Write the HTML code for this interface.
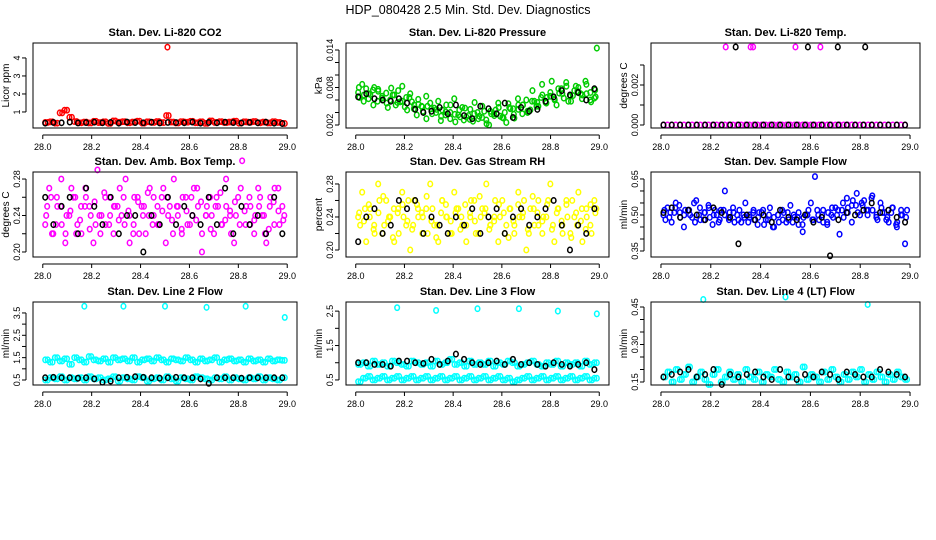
<!DOCTYPE html>
<html><head><meta charset="utf-8"><style>
html,body{margin:0;padding:0;background:#fff;}
svg{display:block;font-family:"Liberation Sans",sans-serif;}
</style></head><body>
<svg id="chart" width="936" height="540" viewBox="0 0 936 540">
<rect width="936" height="540" fill="#fff"/>
<text x="468" y="14" text-anchor="middle" font-size="12.5">HDP_080428  2.5 Min. Std. Dev. Diagnostics</text>
</svg>
<script>
// ---- data arrays ----
const xTicks = [28.0, 28.2, 28.4, 28.6, 28.8, 29.0];
const xTickLabels = ["28.0","28.2","28.4","28.6","28.8","29.0"];

const co2Red = [0.42,0.45,0.38,0.95,1.1,0.7,0.47,0.40,0.44,0.39,0.48,0.41,0.45,0.37,0.5,0.43,0.46,0.40,0.44,0.49,0.38,0.45,0.42,0.47,0.41,0.8,0.44,0.39,0.46,0.43,0.48,0.40,0.45,0.37,0.5,0.42,0.46,0.41,0.44,0.49,0.38,0.45,0.43,0.47,0.40,0.44,0.39,0.46,0.42,0.36];
const co2Black = [0.38,0.42,0.40,0.44,0.39,0.41,0.43,0.40,0.42,0.38,0.44,0.41,0.40,0.43,0.39,0.42,0.41,0.40,0.44,0.38,0.42,0.40,0.43,0.41,0.39,0.42,0.40,0.43,0.38,0.36];
const co2OutX = [28.51]; const co2OutY = [4.6];

const presGreen = [0.0072,0.0085,0.0078,0.0069,0.0080,0.0074,0.0066,0.0071,0.0060,0.0068,0.0075,0.0058,0.0064,0.0070,0.0052,0.0061,0.0049,0.0066,0.0055,0.0047,0.0058,0.0044,0.0052,0.0040,0.0062,0.0036,0.0048,0.0033,0.0045,0.0038,0.0030,0.0050,0.0028,0.0042,0.0035,0.0055,0.0032,0.0024,0.0046,0.0031,0.0052,0.0038,0.0060,0.0044,0.0058,0.0050,0.0068,0.0055,0.0072,0.0062,0.0078,0.0070,0.0082,0.0066,0.0075,0.0080,0.0068,0.0085,0.0072,0.0063];
const presGreen2 = [0.0064,0.0068,0.0062,0.0076,0.0058,0.0063,0.0055,0.0079,0.0052,0.0057,0.0049,0.0064,0.0046,0.0053,0.0042,0.0050,0.0038,0.0045,0.0034,0.0041,0.0030,0.0037,0.0044,0.0028,0.0035,0.0026,0.0040,0.0032,0.0022,0.0038,0.0044,0.0034,0.0040,0.0048,0.0037,0.0045,0.0052,0.0042,0.0058,0.0050,0.0064,0.0056,0.0066,0.0060,0.0071,0.0063,0.0058,0.0067,0.0074,0.0062,0.0070,0.0057,0.0065];
const presGreen3 = [0.0080,0.0058,0.0070,0.0052,0.0077,0.0060,0.0048,0.0068,0.0056,0.0082,0.0044,0.0057,0.0036,0.0050,0.0030,0.0046,0.0040,0.0027,0.0036,0.0052,0.0025,0.0033,0.0047,0.0029,0.0056,0.0034,0.0042,0.0020,0.0038,0.0048,0.0031,0.0054,0.0046,0.0062,0.0052,0.0040,0.0075,0.0056,0.0085,0.0064,0.0090,0.0052,0.0078,0.0088,0.0058,0.0082,0.0070,0.0090,0.0060,0.0076];
const presBlack = [0.0065,0.0070,0.0062,0.0060,0.0058,0.0062,0.0055,0.0045,0.0040,0.0042,0.0048,0.0038,0.0052,0.0035,0.0030,0.0050,0.0046,0.0038,0.0055,0.0032,0.0048,0.0042,0.0045,0.0058,0.0065,0.0075,0.0068,0.0072,0.0060,0.0078];
const presOutX = [28.99]; const presOutY = [0.0143];

const tempMag = new Array(60).fill(0);
const tempBlack = new Array(30).fill(0);
const tempMagOutX = [28.26,28.36,28.37,28.54,28.64]; const tempMagOutY = [0.0039,0.0039,0.0039,0.0039,0.0039];
const tempBlkOutX = [28.30,28.59,28.71,28.82]; const tempBlkOutY = [0.0039,0.0039,0.0039,0.0039];

const ambMag = [0.23,0.27,0.22,0.25,0.28,0.21,0.24,0.26,0.23,0.22,0.27,0.25,0.21,0.29,0.24,0.23,0.26,0.22,0.25,0.24,0.28,0.21,0.23,0.26,0.25,0.22,0.27,0.24,0.23,0.26,0.21,0.25,0.28,0.24,0.22,0.26,0.23,0.27,0.25,0.20,0.24,0.26,0.22,0.25,0.23,0.28,0.24,0.21,0.26,0.30,0.25,0.23,0.22,0.27,0.24,0.21,0.26,0.23,0.27,0.25];
const ambMag2 = [0.25,0.22,0.26,0.23,0.24,0.27,0.22,0.25,0.26,0.24,0.23,0.22,0.26,0.24,0.25,0.27,0.23,0.24,0.26,0.22,0.25,0.24,0.26,0.23,0.27,0.24,0.22,0.25,0.26,0.23,0.24,0.27,0.22,0.25,0.24,0.26,0.23,0.25,0.22,0.24,0.27,0.23,0.25,0.24,0.26,0.22,0.25,0.27,0.23,0.24];
const ambMag3 = [0.24,0.26,0.23,0.25,0.22,0.245,0.26,0.235,0.25,0.225,0.255,0.24,0.265,0.23,0.25,0.235,0.26,0.245,0.22,0.255,0.24,0.265,0.23,0.25,0.245,0.26,0.235,0.25,0.225,0.245,0.26,0.235,0.255,0.24,0.225,0.25,0.265,0.235,0.245,0.255,0.23,0.245,0.26,0.235,0.25,0.24,0.225,0.255,0.245,0.235];
const ambBlack = [0.26,0.23,0.25,0.26,0.22,0.27,0.25,0.23,0.26,0.22,0.24,0.24,0.20,0.24,0.23,0.26,0.23,0.25,0.24,0.23,0.26,0.23,0.27,0.22,0.25,0.23,0.24,0.22,0.26,0.22];
const rhYel = [0.24,0.27,0.21,0.25,0.23,0.28,0.22,0.26,0.24,0.21,0.25,0.27,0.23,0.20,0.26,0.24,0.22,0.25,0.28,0.23,0.21,0.26,0.24,0.22,0.27,0.25,0.23,0.21,0.24,0.26,0.22,0.25,0.28,0.23,0.24,0.21,0.26,0.23,0.25,0.22,0.27,0.24,0.20,0.25,0.23,0.26,0.22,0.24,0.28,0.21,0.25,0.23,0.26,0.22,0.24,0.27,0.21,0.25,0.23,0.26];
const rhYel2 = [0.23,0.25,0.24,0.22,0.26,0.23,0.24,0.25,0.22,0.24,0.26,0.23,0.25,0.24,0.22,0.25,0.23,0.26,0.24,0.22,0.25,0.24,0.23,0.26,0.22,0.24,0.25,0.23,0.26,0.24,0.22,0.25,0.23,0.24,0.26,0.22,0.25,0.23,0.24,0.26,0.23,0.25,0.22,0.24,0.26,0.23,0.25,0.24,0.22,0.25];
const rhYel3 = [0.245,0.235,0.255,0.225,0.245,0.265,0.235,0.215,0.245,0.255,0.235,0.225,0.255,0.245,0.265,0.235,0.215,0.245,0.255,0.235,0.245,0.225,0.255,0.245,0.235,0.265,0.245,0.225,0.235,0.255,0.245,0.215,0.235,0.255,0.245,0.225,0.265,0.245,0.235,0.255,0.225,0.245,0.235,0.255,0.215,0.245,0.235,0.225,0.255,0.245];
const rhBlack = [0.21,0.24,0.25,0.22,0.23,0.26,0.25,0.26,0.22,0.24,0.23,0.22,0.24,0.23,0.25,0.22,0.24,0.25,0.22,0.24,0.25,0.23,0.24,0.25,0.26,0.23,0.20,0.23,0.22,0.25];
const sfBlue = [0.50,0.53,0.47,0.55,0.51,0.45,0.52,0.49,0.56,0.48,0.51,0.54,0.46,0.50,0.52,0.60,0.48,0.53,0.50,0.47,0.55,0.49,0.52,0.46,0.51,0.48,0.53,0.45,0.50,0.52,0.47,0.54,0.49,0.51,0.43,0.50,0.55,0.66,0.48,0.52,0.46,0.50,0.53,0.42,0.49,0.51,0.47,0.54,0.50,0.56,0.52,0.58,0.49,0.55,0.51,0.47,0.53,0.45,0.50,0.38];
const sfBlue2 = [0.48,0.51,0.53,0.49,0.52,0.50,0.47,0.53,0.51,0.49,0.52,0.48,0.50,0.51,0.47,0.52,0.49,0.50,0.48,0.51,0.46,0.50,0.49,0.47,0.51,0.48,0.50,0.46,0.49,0.52,0.48,0.50,0.47,0.51,0.49,0.52,0.55,0.53,0.56,0.51,0.54,0.50,0.52,0.48,0.51,0.49,0.53,0.47,0.50,0.52];
const sfBlue3 = [0.52,0.49,0.51,0.54,0.50,0.52,0.55,0.50,0.48,0.53,0.50,0.47,0.52,0.49,0.51,0.48,0.50,0.47,0.51,0.49,0.52,0.48,0.45,0.50,0.48,0.51,0.47,0.49,0.46,0.50,0.48,0.52,0.50,0.47,0.53,0.50,0.52,0.57,0.54,0.59,0.55,0.52,0.57,0.50,0.53,0.48,0.51,0.46,0.52,0.49];
const sfBlack = [0.51,0.53,0.49,0.52,0.50,0.48,0.53,0.51,0.49,0.38,0.50,0.48,0.50,0.47,0.52,0.49,0.48,0.50,0.47,0.49,0.33,0.48,0.51,0.50,0.52,0.55,0.51,0.52,0.49,0.47];

const l2High = [1.4,1.3,1.5,1.35,1.45,1.2,1.5,1.4,1.3,1.55,1.4,1.35,1.45,1.3,1.5,1.4,1.45,1.35,1.5,1.3,1.4,1.45,1.35,1.5,1.4,1.3,1.45,1.4,1.35,1.5,1.4,1.3,1.45,1.35,1.4,1.5,1.3,1.4,1.45,1.35,1.4,1.3,1.45,1.35,1.4,1.3,1.45,1.35,1.4,1.38];
const l2Low = [0.5,0.6,0.55,0.65,0.5,0.6,0.55,0.6,0.5,0.65,0.55,0.6,0.5,0.55,0.65,0.45,0.6,0.55,0.5,0.65,0.6,0.45,0.55,0.6,0.5,0.65,0.55,0.45,0.6,0.55,0.5,0.65,0.6,0.55,0.5,0.6,0.55,0.65,0.5,0.6,0.55,0.5,0.6,0.55,0.65,0.5,0.6,0.55,0.5,0.6];
const l2Black = [0.6,0.62,0.6,0.6,0.58,0.6,0.55,0.4,0.45,0.6,0.62,0.65,0.62,0.6,0.58,0.6,0.62,0.6,0.6,0.55,0.35,0.6,0.6,0.6,0.58,0.6,0.6,0.6,0.6,0.6];
const l2OutX = [28.17,28.33,28.50,28.67,28.83,28.99]; const l2OutY = [3.8,3.8,3.8,3.75,3.8,3.3];
const l3High = [0.95,1.0,0.9,1.05,0.95,1.0,0.9,1.05,1.0,0.95,0.9,1.05,1.0,0.95,1.0,0.9,1.05,0.95,1.0,1.1,0.95,1.0,0.9,1.05,0.95,1.0,0.95,1.05,0.9,1.0,0.95,1.05,1.0,0.9,0.95,1.0,1.05,0.95,0.9,1.0,0.95,1.05,0.9,1.0,0.95,1.0,0.9,1.05,0.95,1.0];
const l3Low = [0.45,0.55,0.6,0.5,0.55,0.6,0.5,0.55,0.6,0.5,0.55,0.6,0.5,0.55,0.6,0.5,0.55,0.6,0.5,0.55,0.6,0.5,0.55,0.6,0.5,0.55,0.6,0.5,0.55,0.6,0.5,0.55,0.45,0.5,0.55,0.6,0.5,0.55,0.6,0.5,0.55,0.6,0.5,0.55,0.6,0.5,0.55,0.6,0.5,0.55];
const l3Black = [1.0,1.0,0.95,0.95,0.9,1.05,1.05,1.0,0.98,1.1,0.95,1.05,1.25,1.1,1.0,0.95,1.0,1.05,0.95,1.1,0.95,1.0,0.95,0.9,1.0,0.95,0.9,0.95,1.0,0.8];
const l3OutX = [28.17,28.33,28.50,28.67,28.83,28.99]; const l3OutY = [2.6,2.52,2.57,2.57,2.5,2.42];
const l4Cyan = [0.17,0.19,0.15,0.2,0.16,0.18,0.21,0.15,0.17,0.19,0.16,0.14,0.18,0.2,0.15,0.17,0.19,0.16,0.18,0.15,0.2,0.17,0.16,0.19,0.15,0.18,0.17,0.2,0.16,0.15,0.19,0.17,0.18,0.15,0.21,0.16,0.18,0.17,0.15,0.19,0.16,0.2,0.17,0.15,0.18,0.16,0.19,0.17,0.2,0.15,0.18,0.16,0.19,0.17,0.15,0.18,0.16,0.19,0.17,0.16];
const l4Black = [0.17,0.18,0.19,0.2,0.17,0.18,0.2,0.14,0.18,0.17,0.18,0.19,0.17,0.16,0.2,0.17,0.16,0.18,0.17,0.19,0.18,0.16,0.19,0.18,0.17,0.17,0.2,0.19,0.18,0.17];
const l4OutX = [28.17,28.50,28.83]; const l4OutY = [0.48,0.49,0.46];

// ---- rendering ----
const NS = "http://www.w3.org/2000/svg";
const svg = document.getElementById("chart");
function mk(tag, attrs, parent) {
  const e = document.createElementNS(NS, tag);
  for (const k in attrs) e.setAttribute(k, attrs[k]);
  (parent || svg).appendChild(e);
  return e;
}
const cols = [[33,297],[346,609],[651,920]];
const rows = [[43,128],[172,257],[302,385]];

function panel(cfg) {
  const [L, R] = cols[cfg.c], [T, B] = rows[cfg.r];
  const g = mk("g", {});
  
  
  const xs = t => L + (t - 27.96) / 1.08 * (R - L);
  const ys = v => B - (v - cfg.ymin) / (cfg.ymax - cfg.ymin) * (B - T);
  const yl = mk("text", {x: 0, y: 0, "text-anchor": "middle", "font-size": 10, transform: `translate(${L - 24},${(T + B) / 2}) rotate(-90)`}, g);
  yl.textContent = cfg.ylab;
  
  
  const xa = mk("g", {}, g);
  
  
  mk("line", {x1: xs(28), x2: xs(29), y1: B + 7, y2: B + 7, stroke: "#000"}, xa);
  xTicks.forEach((v, i) => {
    mk("line", {x1: xs(v), x2: xs(v), y1: B + 7, y2: B + 11, stroke: "#000"}, xa);
    const tl = mk("text", {x: xs(v), y: B + 22, "text-anchor": "middle", "font-size": 9}, xa);
    tl.textContent = xTickLabels[i];
    
    
  });
  const ya = mk("g", {}, g);
  
  
  mk("line", {x1: L - 7, x2: L - 7, y1: ys(cfg.yt[0]), y2: ys(cfg.yt[cfg.yt.length - 1]), stroke: "#000"}, ya);
  cfg.yt.forEach((v, i) => {
    mk("line", {x1: L - 11, x2: L - 7, y1: ys(v), y2: ys(v), stroke: "#000"}, ya);
    if (cfg.ylbl[i]) {
      const tl = mk("text", {x: 0, y: 0, "text-anchor": "middle", "font-size": 9, transform: `translate(${L - 13},${ys(v)}) rotate(-90)`}, ya);
      tl.textContent = cfg.ylbl[i];
      
      
    }
  });
  const pts = mk("g", {}, g);
  
  
  const dot = (x, y, col) => mk("ellipse", {cx: x, cy: y, rx: 2.3, ry: 2.7, fill: "none", stroke: col, "stroke-width": 1.5}, pts);
  cfg.series.forEach(s => {
    const n = s.y.length;
    s.y.forEach((v, i) => {
      const tx = s.x ? s.x[i] : 28.01 + (s.off || 0) + i * (0.97 / (n - 1));
      dot(xs(tx), ys(v), s.col);
    });
  });
  const box = mk("rect", {x: L, y: T, width: R - L, height: B - T, fill: "none", stroke: "#000"}, g);
  
  
  const t = mk("text", {x: (L + R) / 2, y: T - 7, "text-anchor": "middle", "font-size": 11, "font-weight": "bold"}, g);
  t.textContent = cfg.title;
  
  
}
const RED = "#ff0000", GRN = "#00cc00", MAG = "#ff00ff", YEL = "#ffff00", BLU = "#0000ff", CYA = "#00ffff", BLK = "#000";
panel({c:0,r:0,name:"panel-co2",title:"Stan. Dev. Li-820 CO2",ylab:"Licor ppm",ymin:0.11,ymax:4.83,yt:[1,2,3,4],ylbl:["1","2","3","4"],
  series:[{y:co2Red,col:RED},{y:co2Red,col:RED,off:0.01},{x:co2OutX,y:co2OutY,col:RED},{y:co2Black,col:BLK}]});
panel({c:1,r:0,name:"panel-pressure",title:"Stan. Dev. Li-820 Pressure",ylab:"kPa",ymin:0.00152,ymax:0.01512,yt:[0.002,0.004,0.006,0.008,0.010,0.012,0.014],ylbl:["0.002","","","0.008","","","0.014"],
  series:[{y:presGreen,col:GRN},{y:presGreen2,col:GRN,off:0.005},{y:presGreen3,col:GRN,off:0.003},{x:presOutX,y:presOutY,col:GRN},{y:presBlack,col:BLK}]});
panel({c:2,r:0,name:"panel-temp",title:"Stan. Dev. Li-820 Temp.",ylab:"degrees C",ymin:-0.00015,ymax:0.0041,yt:[0,0.001,0.002,0.003],ylbl:["0.000","","0.002",""],
  series:[{y:tempMag,col:MAG},{x:tempMagOutX,y:tempMagOutY,col:MAG},{y:tempBlack,col:BLK},{x:tempBlkOutX,y:tempBlkOutY,col:BLK}]});
panel({c:0,r:1,name:"panel-amb-box-temp",title:"Stan. Dev. Amb. Box Temp.",ylab:"degrees C",ymin:0.1945,ymax:0.2877,yt:[0.20,0.22,0.24,0.26,0.28],ylbl:["0.20","","0.24","","0.28"],
  series:[{y:ambMag,col:MAG},{y:ambMag2,col:MAG,off:0.008},{y:ambMag3,col:MAG,off:0.004},{y:ambBlack,col:BLK}]});
panel({c:1,r:1,name:"panel-gas-rh",title:"Stan. Dev. Gas Stream RH",ylab:"percent",ymin:0.1915,ymax:0.2945,yt:[0.20,0.22,0.24,0.26,0.28],ylbl:["0.20","","0.24","","0.28"],
  series:[{y:rhYel,col:YEL},{y:rhYel2,col:YEL,off:0.008},{y:rhYel3,col:YEL,off:0.004},{y:rhBlack,col:BLK}]});
panel({c:2,r:1,name:"panel-sample-flow",title:"Stan. Dev. Sample Flow",ylab:"ml/min",ymin:0.325,ymax:0.679,yt:[0.35,0.40,0.45,0.50,0.55,0.60,0.65],ylbl:["0.35","","","0.50","","","0.65"],
  series:[{y:sfBlue,col:BLU},{y:sfBlue2,col:BLU,off:0.008},{y:sfBlue3,col:BLU,off:0.004},{y:sfBlack,col:BLK}]});
panel({c:0,r:2,name:"panel-line2-flow",title:"Stan. Dev. Line 2 Flow",ylab:"ml/min",ymin:0.276,ymax:3.99,yt:[0.5,1.0,1.5,2.0,2.5,3.0,3.5],ylbl:["0.5","","1.5","","2.5","","3.5"],
  series:[{y:l2High,col:CYA},{y:l2High,col:CYA,off:0.01},{y:l2Low,col:CYA},{y:l2Low,col:CYA,off:0.01},{x:l2OutX,y:l2OutY,col:CYA},{y:l2Black,col:BLK}]});
panel({c:1,r:2,name:"panel-line3-flow",title:"Stan. Dev. Line 3 Flow",ylab:"ml/min",ymin:0.353,ymax:2.765,yt:[0.5,1.0,1.5,2.0,2.5],ylbl:["0.5","","1.5","","2.5"],
  series:[{y:l3High,col:CYA},{y:l3High,col:CYA,off:0.01},{y:l3Low,col:CYA},{y:l3Low,col:CYA,off:0.01},{x:l3OutX,y:l3OutY,col:CYA},{y:l3Black,col:BLK}]});
panel({c:2,r:2,name:"panel-line4-flow",title:"Stan. Dev. Line 4 (LT) Flow",ylab:"ml/min",ymin:0.138,ymax:0.47,yt:[0.15,0.20,0.25,0.30,0.35,0.40,0.45],ylbl:["0.15","","","0.30","","","0.45"],
  series:[{y:l4Cyan,col:CYA},{y:l4Cyan,col:CYA,off:0.008},{x:l4OutX,y:l4OutY,col:CYA},{y:l4Black,col:BLK}]});
</script>
</body></html>
